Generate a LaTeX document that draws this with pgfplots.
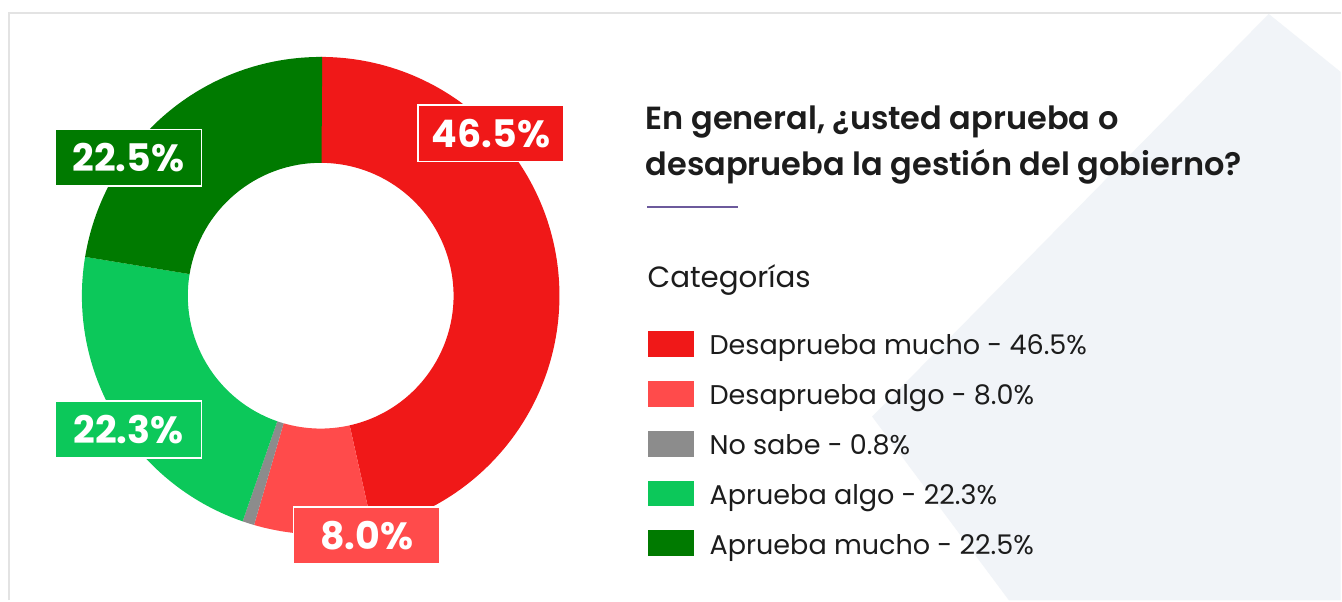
\documentclass[border=0pt]{standalone}
\usepackage{fontspec}
\setmainfont{Poppins}
\newfontfamily\semib{Poppins SemiBold}
\usepackage{pgfplots}
\usepackage{pgfplotstable}
\pgfplotsset{compat=1.18}

\definecolor{rojo}{HTML}{F01818}
\definecolor{rojoclaro}{HTML}{FF4B4B}
\definecolor{gris}{HTML}{8C8C8C}
\definecolor{verdeclaro}{HTML}{0CC85A}
\definecolor{verde}{HTML}{007A00}
\definecolor{fondo}{HTML}{F1F4F8}
\definecolor{marco}{HTML}{E3E3E3}
\definecolor{texto}{HTML}{1C1C1C}
\definecolor{linea}{HTML}{6C5A9C}

% share of answers, clockwise from 12 o'clock
\pgfplotstableread[col sep=comma]{
cat,val,col
Desaprueba mucho,46.5,rojo
Desaprueba algo,8.0,rojoclaro
No sabe,0.8,gris
Aprueba algo,22.3,verdeclaro
Aprueba mucho,22.5,verde
}\votos

\begin{document}
\begin{tikzpicture}
\begin{axis}[scale only axis, width=1006.5pt, height=450.75pt,
  xmin=0, xmax=1342, ymin=0, ymax=601, y dir=reverse,
  hide axis, clip=false]
% background and frame
\fill[white] (axis cs:0,0) rectangle (axis cs:1342,601);
\fill[fondo] (axis cs:1270,14) -- (axis cs:1342,72) -- (axis cs:1342,601)
  -- (axis cs:1010,601) -- (axis cs:873,417) -- cycle;
\draw[marco, line width=2pt] (axis cs:9,601) -- (axis cs:9,13) -- (axis cs:1342,13);

% donut: outer r = 239px, inner r = 133px (1px = 0.75pt)
\pgfplotsextra{%
  \pgfplotstablegetrowsof{\votos}%
  \pgfmathtruncatemacro\ultima{\pgfplotsretval-1}%
  \xdef\angA{90}%
  \foreach \i in {0,...,\ultima}{%
    \pgfplotstablegetelem{\i}{val}\of\votos
    \pgfmathsetmacro\angB{\angA-3.6*\pgfplotsretval}%
    \pgfmathsetmacro\angC{\angB+180}%
    \pgfplotstablegetelem{\i}{col}\of\votos
    \edef\colr{\pgfplotsretval}%
    \fill[\colr] (axis cs:321,296) ++(\angA:179.25pt)
      arc[start angle=\angA, end angle=\angB, radius=179.25pt]
      -- ++(\angC:79.5pt)
      arc[start angle=\angB, end angle=\angA, radius=99.75pt] -- cycle;
    \xdef\angA{\angB}%
  }%
}

% value boxes
\tikzset{caja/.style={draw=white, line width=1.2pt, text=white,
  minimum width=110pt, minimum height=42.5pt, inner sep=0pt,
  font=\bfseries\fontsize{28.5}{28.5}\selectfont}}
\node[caja, fill=rojo] at (axis cs:491.5,133.5) {46.5\%};
\node[caja, fill=verde] at (axis cs:128.5,158) {22.5\%};
\node[caja, fill=verdeclaro] at (axis cs:128.5,430) {22.3\%};
\node[caja, fill=rojoclaro] at (axis cs:367,536) {8.0\%};

% title
\tikzset{tit/.style={anchor=base west, inner sep=0pt, text=texto,
  font=\semib\fontsize{24}{28}\selectfont}}
\node[tit] at (axis cs:646,130) {En general, ¿usted aprueba o};
\node[tit] at (axis cs:646,176) {desaprueba la gestión del gobierno?};
\draw[linea, line width=1.1pt] (axis cs:648,207) -- (axis cs:739,207);
\node[anchor=base west, inner sep=0pt, text=texto, font=\fontsize{22}{26}\selectfont]
  at (axis cs:648,288) {Categorías};

% legend
\pgfplotsextra{%
  \foreach \i in {0,...,4}{%
    \pgfplotstablegetelem{\i}{cat}\of\votos \edef\nombre{\pgfplotsretval}%
    \pgfplotstablegetelem{\i}{val}\of\votos \edef\valor{\pgfplotsretval}%
    \pgfplotstablegetelem{\i}{col}\of\votos \edef\colr{\pgfplotsretval}%
    \pgfmathsetmacro\ya{331+50*\i}%
    \pgfmathsetmacro\yb{357+50*\i}%
    \pgfmathsetmacro\yt{355+50*\i}%
    \fill[\colr] (axis cs:649,\ya) rectangle (axis cs:695,\yb);
    \node[anchor=base west, inner sep=0pt, text=texto,
      font=\fontsize{20.3}{24}\selectfont]
      at (axis cs:710,\yt) {\nombre{} - \valor\%};
  }%
}
\end{axis}
\end{tikzpicture}
\end{document}
